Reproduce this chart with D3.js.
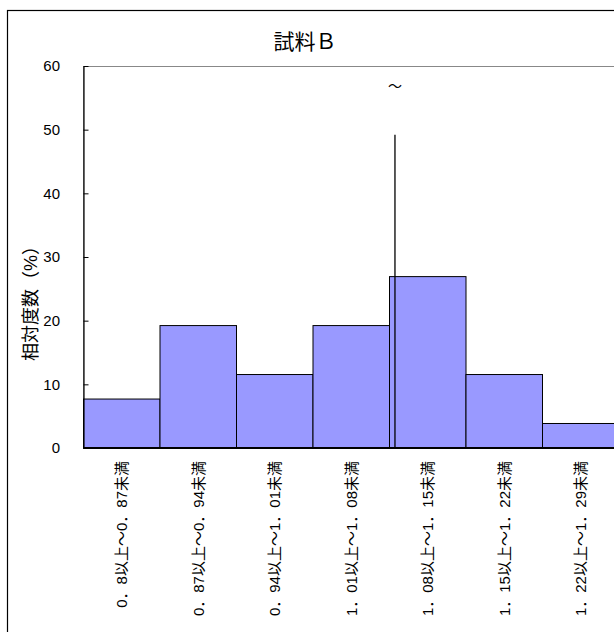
<!DOCTYPE html>
<html>
<head>
<meta charset="utf-8">
<script src="https://cdn.jsdelivr.net/npm/d3@7/dist/d3.min.js"></script>
<style>
  html, body { margin: 0; padding: 0; background: #ffffff; }
  svg { display: block; }
  text { font-family: "Liberation Sans", Arial, "Noto Sans CJK JP", sans-serif; fill: #000; }
</style>
</head>
<body>
<svg id="chart" width="614" height="632"></svg>
<script>
// ---- data ----
const title = "試料Ｂ";
const yTitle = "相対度数（%）";
const categories = [
  "0．8以上～0．87未満",
  "0．87以上～0．94未満",
  "0．94以上～1．01未満",
  "1．01以上～1．08未満",
  "1．08以上～1．15未満",
  "1．15以上～1．22未満",
  "1．22以上～1．29未満"
];
const boundaries = [0.80, 0.87, 0.94, 1.01, 1.08, 1.15, 1.22, 1.29];
const values = [7.69, 19.23, 11.54, 19.23, 26.92, 11.54, 3.85];
const yTicks = [0, 10, 20, 30, 40, 50, 60];
const markerX = 1.085;
const markerTop = 49.2;
const markerLabel = "～";

// ---- layout ----
const svg = d3.select("#chart");
const plotLeft = 83.5, plotTop = 66, plotBottom = 448, barW = 76.5;
const x = d3.scaleLinear().domain([boundaries[0], boundaries[boundaries.length - 1]])
  .range([plotLeft, plotLeft + barW * categories.length]);
const y = d3.scaleLinear().domain([0, 60]).range([plotBottom, plotTop]);

// outer chart frame (extends past the window)
svg.append("rect").attr("x", 7.5).attr("y", 10.5).attr("width", 800).attr("height", 800)
  .attr("fill", "#fff").attr("stroke", "#000").attr("stroke-width", 1.2);

// plot area border (gray)
svg.append("rect").attr("x", plotLeft).attr("y", plotTop + 0.5)
  .attr("width", x.range()[1] - plotLeft).attr("height", plotBottom - plotTop)
  .attr("fill", "none").attr("stroke", "#888").attr("stroke-width", 1);

// title
svg.append("text").attr("x", 305).attr("y", 49).attr("text-anchor", "middle")
  .attr("font-size", 21).text(title);

// bars
const bins = categories.map((c, i) => ({ c, v: values[i], x0: boundaries[i], x1: boundaries[i + 1] }));
svg.append("g").selectAll("rect").data(bins).join("rect")
  .attr("x", d => x(d.x0))
  .attr("y", d => y(d.v))
  .attr("width", d => x(d.x1) - x(d.x0))
  .attr("height", d => y(0) - y(d.v))
  .attr("fill", "#9999ff")
  .attr("stroke", "#000")
  .attr("stroke-width", 1);

// marker line and label
svg.append("line")
  .attr("x1", x(markerX)).attr("x2", x(markerX))
  .attr("y1", y(markerTop)).attr("y2", y(0))
  .attr("stroke", "#000").attr("stroke-width", 1.3);
svg.append("text").attr("x", x(markerX)).attr("y", 86)
  .attr("text-anchor", "middle").attr("dominant-baseline", "central")
  .attr("font-size", 14).text(markerLabel);

// y axis
const yAxis = d3.axisLeft(y).tickValues(yTicks).tickSizeInner(-5).tickSizeOuter(0).tickPadding(23.5);
const gy = svg.append("g").attr("transform", `translate(${plotLeft},0)`).call(yAxis);
gy.select(".domain").attr("stroke", "#000").attr("stroke-width", 1.2);
gy.selectAll(".tick line").attr("stroke", "#000");
gy.selectAll(".tick text").attr("font-size", 15)
  .attr("font-family", "'Liberation Sans', Arial, sans-serif").attr("fill", "#000");

// baseline
svg.append("line").attr("x1", plotLeft).attr("x2", x.range()[1])
  .attr("y1", y(0)).attr("y2", y(0)).attr("stroke", "#000").attr("stroke-width", 2);

// category labels (rotated)
svg.append("g").selectAll("text").data(bins).join("text")
  .attr("transform", d => `translate(${(x(d.x0) + x(d.x1)) / 2},461) rotate(-90)`)
  .attr("text-anchor", "end")
  .attr("dominant-baseline", "central")
  .attr("font-size", 15)
  .text(d => d.c);

// y axis title
svg.append("text")
  .attr("transform", "translate(30.5,299) rotate(-90)")
  .attr("text-anchor", "middle").attr("dominant-baseline", "central")
  .attr("font-family", "'Noto Sans CJK JP', sans-serif")
  .attr("font-size", 18).text(yTitle);
</script>
</body>
</html>
